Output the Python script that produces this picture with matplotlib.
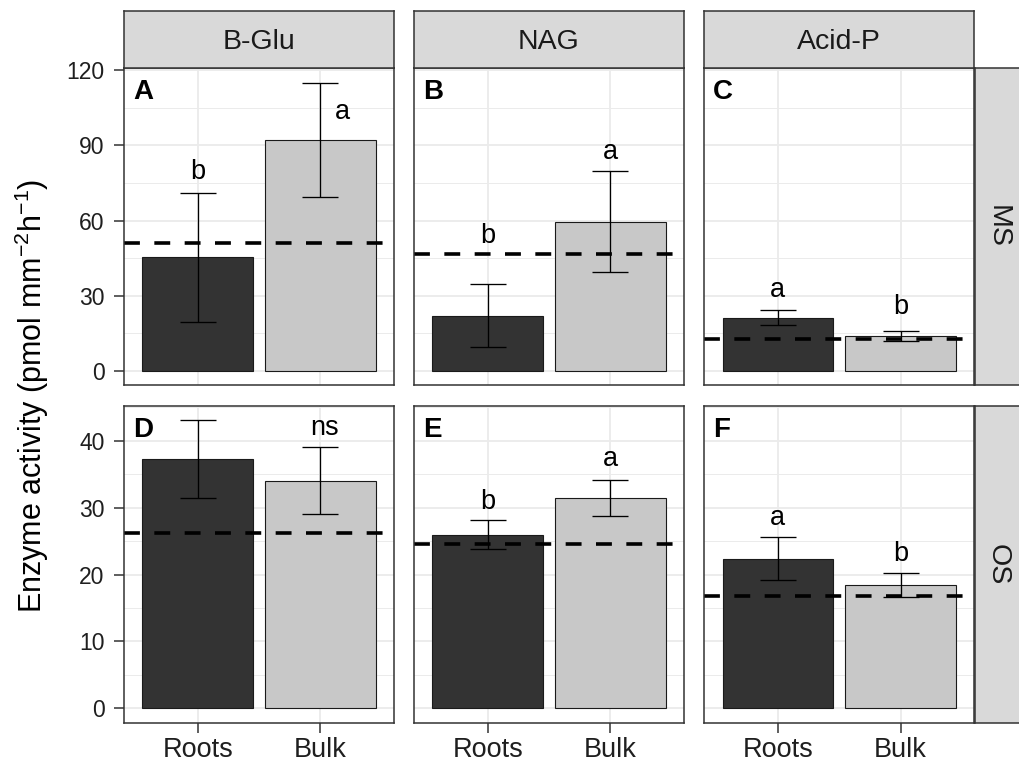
import matplotlib
matplotlib.use("Agg")
import matplotlib.pyplot as plt
from matplotlib.ticker import MultipleLocator

plt.rcParams['font.family'] = ['Liberation Sans', 'DejaVu Sans']
plt.rcParams['mathtext.fontset'] = 'custom'
plt.rcParams['mathtext.rm'] = 'Liberation Sans'
plt.rcParams['mathtext.it'] = 'Liberation Sans:italic'

# ---------------- data ----------------
enzymes = ["B-Glu", "NAG", "Acid-P"]
sites = ["MS", "OS"]
locations = ["Roots", "Bulk"]
panel_tags = [["A", "B", "C"], ["D", "E", "F"]]

means_MS = [[45.3, 92.25], [22.05, 59.5], [21.3, 14.0]]
err_MS = [[25.85, 22.75], [12.55, 20.1], [3.0, 2.1]]
means_OS = [[37.3, 34.05], [25.95, 31.45], [22.4, 18.4]]
err_OS = [[5.8, 5.05], [2.15, 2.75], [3.2, 1.8]]
ref_MS = [51.2, 46.8, 12.8]
ref_OS = [26.2, 24.6, 16.8]

# significance letters: (text, x category position, y value)
letters_MS = [[("b", 1.0, 76.5), ("a", 2.18, 100.5)],
              [("b", 1.0, 51.1), ("a", 2.0, 84.7)],
              [("a", 1.0, 29.5), ("b", 2.0, 22.7)]]
letters_OS = [[("ns", 2.03, 40.8)],
              [("b", 1.0, 29.8), ("a", 2.0, 36.2)],
              [("a", 1.0, 27.4), ("b", 2.0, 22.0)]]

row_ticks = [[0, 30, 60, 90, 120], [0, 10, 20, 30, 40]]
bar_colors = ["#333333", "#c8c8c8"]

# ---------------- layout ----------------
W, H = 1019, 767
fig = plt.figure(figsize=(W / 100, H / 100), dpi=100)

col_left = [124, 414, 704.3]
panel_w = 270
row_top = [68.3, 405.7]
panel_h = 317
strip_top = 11
grey20 = "#333333"
txt_col = "#1f1f1f"

def fx(px):
    return px / W

def fy(py):
    return 1 - py / H

means_rows = [means_MS, means_OS]
err_rows = [err_MS, err_OS]
ref_rows = [ref_MS, ref_OS]
letter_rows = [letters_MS, letters_OS]

for r in range(2):
    means = means_rows[r]
    errs = err_rows[r]
    top = max(m + e for mm, ee in zip(means, errs) for m, e in zip(mm, ee))
    ylo, yhi = -0.05 * top, top * 1.05
    for c in range(3):
        ax = fig.add_axes([fx(col_left[c]), fy(row_top[r] + panel_h),
                           fx(panel_w), panel_h / H])
        ax.set_xlim(0.4, 2.6)
        ax.set_ylim(ylo, yhi)
        ax.set_facecolor("white")
        ax.set_axisbelow(True)
        ax.yaxis.set_major_locator(plt.FixedLocator(row_ticks[r]))
        step = row_ticks[r][1] - row_ticks[r][0]
        ax.yaxis.set_minor_locator(MultipleLocator(step / 2))
        ax.set_xticks([1, 2])
        ax.grid(True, which="major", color="#ebebeb", lw=1.3)
        ax.grid(True, which="minor", axis="y", color="#ebebeb", lw=0.7)
        ax.tick_params(which="minor", left=False, bottom=False)
        x = [1, 2]
        ax.bar(x, means[c], width=0.9, color=bar_colors,
               edgecolor="#1a1a1a", linewidth=0.8, zorder=2)
        ax.errorbar(x, means[c], yerr=errs[c], fmt="none", ecolor="black",
                    elinewidth=0.95, capsize=13, capthick=0.95, zorder=3)
        ax.axhline(ref_rows[r][c], color="black", lw=2.6,
                   linestyle=(0, (4.4, 4)), zorder=4)
        for txt, xp, yp in letter_rows[r][c]:
            ax.text(xp, yp, txt, ha="center", va="baseline", fontsize=19.5,
                    color="black", zorder=5)
        ax.text(9 / panel_w, 1 - 31 / panel_h, panel_tags[r][c],
                transform=ax.transAxes, ha="left", va="baseline",
                fontsize=20, fontweight="bold", color="black")
        for s in ax.spines.values():
            s.set_color(grey20)
            s.set_linewidth(1.1)
            s.set_zorder(6)
        ax.tick_params(axis="both", which="major", length=7, width=1.1,
                       color=grey20, labelcolor=txt_col)
        ax.tick_params(axis="y", pad=7, labelsize=16.5)
        ax.tick_params(axis="x", pad=3, labelsize=19.5)
        if c == 0:
            ax.set_yticklabels([str(t) for t in row_ticks[r]])
        else:
            ax.tick_params(axis="y", left=False, labelleft=False)
        if r == 0:
            ax.tick_params(axis="x", bottom=False, labelbottom=False)
        else:
            ax.set_xticklabels(locations)

# top strips
strip_h = row_top[0] - strip_top
for c in range(3):
    sax = fig.add_axes([fx(col_left[c]), fy(row_top[0]),
                        fx(panel_w), strip_h / H])
    sax.set_facecolor("#d9d9d9")
    sax.set_xticks([]); sax.set_yticks([])
    for s in sax.spines.values():
        s.set_color(grey20); s.set_linewidth(1.1)
    sax.text(0.5, (row_top[0] - 49) / strip_h, enzymes[c], transform=sax.transAxes,
             ha="center", va="baseline", fontsize=20.5, color="#1a1a1a")

# right strips
for r in range(2):
    sax = fig.add_axes([fx(col_left[2] + panel_w + 0.5), fy(row_top[r] + panel_h),
                        fx(strip_h), panel_h / H])
    sax.set_facecolor("#d9d9d9")
    sax.set_xticks([]); sax.set_yticks([])
    for s in sax.spines.values():
        s.set_color(grey20); s.set_linewidth(1.1)
    sax.text(0.4, 0.5, sites[r], transform=sax.transAxes, ha="center",
             va="center", fontsize=20.5, color="#1a1a1a", rotation=270)

fig.text(fx(32), fy((row_top[0] + row_top[1] + panel_h) / 2),
         r"Enzyme activity (pmol mm$^{-2}$h$^{-1}$)", rotation=90,
         ha="center", va="center", fontsize=22, color="black")

fig.savefig("out.png", dpi=100, facecolor="white")
